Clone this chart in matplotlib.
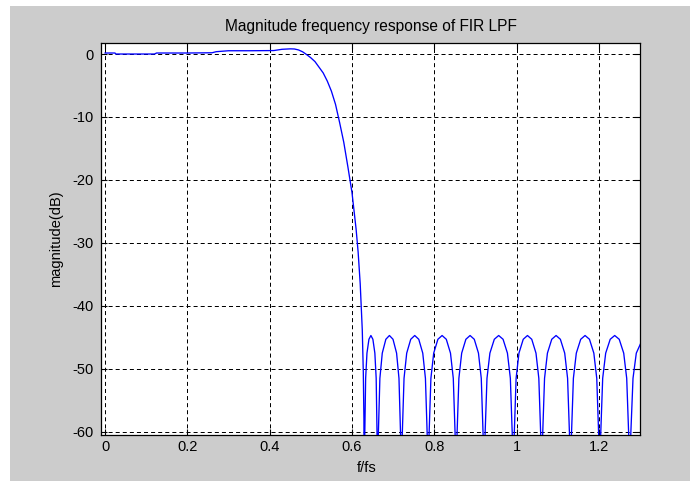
import matplotlib
matplotlib.use("Agg")
import matplotlib.pyplot as plt
from matplotlib.patches import Rectangle

plt.rcParams['font.family'] = ['Liberation Sans', 'DejaVu Sans']
plt.rcParams['lines.scale_dashes'] = False

# passband + transition band (f/fs, dB)
pass_f = [0.0, 0.024, 0.026, 0.05, 0.10, 0.12, 0.125, 0.20, 0.26, 0.27, 0.30, 0.35, 0.41,
          0.43, 0.45, 0.46, 0.47, 0.48, 0.49, 0.50, 0.51, 0.52, 0.53, 0.54, 0.55,
          0.56, 0.57, 0.58, 0.59, 0.60, 0.61, 0.615, 0.62, 0.625, 0.6275, 0.629]
pass_db = [0.16, 0.16, 0.0, 0.0, 0.0, 0.0, 0.16, 0.16, 0.2, 0.37, 0.52, 0.52, 0.55,
           0.75, 0.82, 0.8, 0.65, 0.35, -0.1, -0.6, -1.2, -2.1, -3.0, -4.3, -5.9,
           -8.0, -10.9, -14.0, -17.9, -22.0, -27.8, -31.5, -36.5, -43.8, -50.5, -58.0]

# stopband sidelobes (f/fs, dB)
stop_f = [0.630, 0.6308, 0.6332, 0.6364, 0.6412, 0.646, 0.6508, 0.6556, 0.6588, 0.6612,
          0.662, 0.6635, 0.6678, 0.6736, 0.6823, 0.691, 0.6997, 0.7084, 0.7142, 0.7186,
          0.720, 0.7216, 0.7265, 0.733, 0.7428, 0.7525, 0.7623, 0.772, 0.7785, 0.7834,
          0.785, 0.7867, 0.7918, 0.7986, 0.8088, 0.819, 0.8292, 0.8394, 0.8462, 0.8513,
          0.853, 0.8547, 0.8598, 0.8666, 0.8768, 0.887, 0.8972, 0.9074, 0.9142, 0.9193,
          0.921, 0.9228, 0.9281, 0.9352, 0.9459, 0.9565, 0.9672, 0.9778, 0.9849, 0.9902,
          0.992, 0.9937, 0.9989, 1.0058, 1.0162, 1.0265, 1.0369, 1.0472, 1.0541, 1.0593,
          1.061, 1.0628, 1.068, 1.075, 1.0855, 1.096, 1.1065, 1.117, 1.124, 1.1293,
          1.131, 1.1328, 1.1381, 1.1452, 1.1559, 1.1665, 1.1772, 1.1878, 1.1949, 1.2002,
          1.202, 1.2038, 1.2093, 1.2166, 1.2276, 1.2385, 1.2495, 1.2604, 1.2677, 1.2732,
          1.275, 1.2768, 1.283, 1.291, 1.302]
stop_db = [-85, -61.7, -51.5, -47.5, -45.3, -44.7, -45.3, -47.5, -51.5, -61.7,
           -85, -61.7, -51.5, -47.5, -45.3, -44.7, -45.3, -47.5, -51.5, -61.7,
           -85, -61.7, -51.5, -47.5, -45.3, -44.7, -45.3, -47.5, -51.5, -61.7,
           -85, -61.7, -51.5, -47.5, -45.3, -44.7, -45.3, -47.5, -51.5, -61.7,
           -85, -61.7, -51.5, -47.5, -45.3, -44.7, -45.3, -47.5, -51.5, -61.7,
           -85, -61.7, -51.5, -47.5, -45.3, -44.7, -45.3, -47.5, -51.5, -61.7,
           -85, -61.7, -51.5, -47.5, -45.3, -44.7, -45.3, -47.5, -51.5, -61.7,
           -85, -61.7, -51.5, -47.5, -45.3, -44.7, -45.3, -47.5, -51.5, -61.7,
           -85, -61.7, -51.5, -47.5, -45.3, -44.7, -45.3, -47.5, -51.5, -61.7,
           -85, -61.7, -51.5, -47.5, -45.3, -44.7, -45.3, -47.5, -51.5, -61.7,
           -85, -61.7, -51.5, -47.5, -45.9]

x_ticks = [0, 0.2, 0.4, 0.6, 0.8, 1.0, 1.2]
x_labels = ["0", "0.2", "0.4", "0.6", "0.8", "1", "1.2"]
y_ticks = [0, -10, -20, -30, -40, -50, -60]
y_labels = ["0", "-10", "-20", "-30", "-40", "-50", "-60"]

W, H = 690, 483
fig = plt.figure(figsize=(W / 100, H / 100), dpi=100, facecolor='white')
fig.patches.append(Rectangle((10 / W, 2 / H), 680 / W, 475 / H, transform=fig.transFigure,
                             facecolor='#cccccc', edgecolor='none', zorder=-10))

ax = fig.add_axes([101 / W, (H - 435) / H, 539 / W, 392 / H])
ax.set_facecolor('white')

f_all = pass_f + stop_f
db_all = pass_db + stop_db
ax.plot(f_all, db_all, color='#0000ff', lw=0.95, zorder=3)

ax.set_xlim(-0.01, 1.3)
ax.set_ylim(-60.5, 1.75)
ax.set_xticks(x_ticks)
ax.set_xticklabels(x_labels)
ax.set_yticks(y_ticks)
ax.set_yticklabels(y_labels)

ax.grid(True, color='black', lw=0.72, linestyle=(0, (2.9, 2.2)), zorder=1)
ax.tick_params(direction='in', length=4, width=0.8, top=True, right=True,
               labelsize=10.5, pad=3.5, colors='black')
ax.tick_params(axis='y', pad=5)
for s in ax.spines.values():
    s.set_color('black')
    s.set_linewidth(0.9)

ax.set_title("Magnitude frequency response of FIR LPF", fontsize=11.2, pad=9)
ax.set_xlabel("f/fs", fontsize=10.5)
ax.xaxis.set_label_coords((367 - 101) / 539, -0.066)
ax.set_ylabel("magnitude(dB)", fontsize=10.5, va='center')
ax.yaxis.set_label_coords((56 - 101) / 539, 0.5)

fig.savefig("out.png", dpi=100, facecolor=fig.get_facecolor())
